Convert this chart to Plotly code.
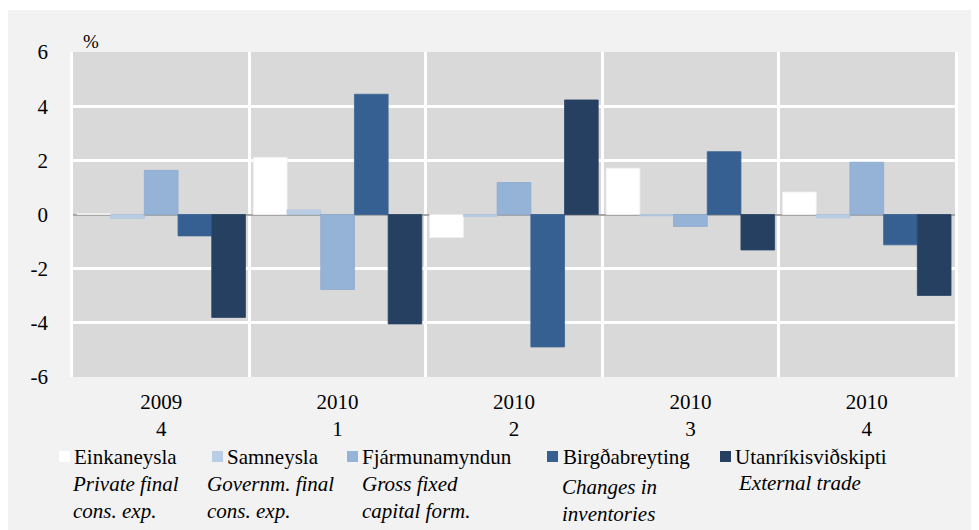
import plotly.graph_objects as go

categories = ["2009<br>4", "2010<br>1", "2010<br>2", "2010<br>3", "2010<br>4"]
series_names = ["Einkaneysla", "Samneysla", "Fjármunamyndun", "Birgðabreyting", "Utanríkisviðskipti"]
english_names = ["Private final<br>cons. exp.", "Governm. final<br>cons. exp.", "Gross fixed<br>capital form.",
                 "Changes in<br>inventories", "External trade"]
einkaneysla = [0.03, 2.11, -0.85, 1.71, 0.83]
samneysla = [-0.15, 0.17, -0.07, -0.05, -0.12]
fjarmunamyndun = [1.63, -2.77, 1.18, -0.44, 1.93]
birgdabreyting = [-0.79, 4.44, -4.89, 2.32, -1.12]
utanrikisvidskipti = [-3.80, -4.04, 4.23, -1.31, -2.99]
y_ticks = [-6, -4, -2, 0, 2, 4, 6]
y_tick_labels = ["-6", "-4", "-2", "0", "2", "4", "6"]

values = [einkaneysla, samneysla, fjarmunamyndun, birgdabreyting, utanrikisvidskipti]
colors = ["#ffffff", "#b9cde5", "#95b3d7", "#376092", "#254061"]
edge_colors = ["#f0f0f0", "#b0c6e0", "#8caad0", "#3a6496", "#2a4566"]

# page offset of the figure (body margin)
OX, OY = 8, 8
W, H = 979 - OX, 530 - OY
# plot area in screen pixels
SL, SR, ST, SB = 73, 955, 52, 377
FONT = "Liberation Serif"
FS = 21

def px(x):
    return (x - SL) / (SR - SL)

def py(y):
    return (SB - y) / (SB - ST)

fig = go.Figure()
for name, vals, c, ec in zip(series_names, values, colors, edge_colors):
    fig.add_trace(go.Bar(name=name, x=categories, y=vals, marker_color=c,
                         marker_line=dict(color=ec, width=0.8)))

shapes = []
annotations = []

# thin white strip at the top of the panel
shapes.append(dict(type="rect", xref="paper", yref="paper", layer="below",
                   x0=px(0), x1=px(979), y0=py(10), y1=py(0),
                   fillcolor="#ffffff", line=dict(width=0)))

# legend
sq_x = [59, 212, 347, 547, 720]
txt_x = [72, 225, 360, 561, 733]
eng_x = [70, 205, 360, 560, 736]
eng_y = [497, 497, 497, 500, 483]
for i in range(5):
    shapes.append(dict(type="rect", xref="paper", yref="paper",
                       x0=px(sq_x[i]), x1=px(sq_x[i] + 11), y0=py(462), y1=py(451),
                       fillcolor=colors[i], line=dict(width=0)))
    annotations.append(dict(xref="paper", yref="paper", x=px(txt_x[i]), y=py(457),
                            text=series_names[i], showarrow=False, xanchor="left", yanchor="middle",
                            font=dict(family=FONT, size=FS, color="#000000")))
    annotations.append(dict(xref="paper", yref="paper", x=px(eng_x[i]), y=py(eng_y[i]),
                            text="<i>" + english_names[i] + "</i>", showarrow=False,
                            xanchor="left", yanchor="middle", align="left",
                            font=dict(family=FONT, size=FS, color="#000000")))

annotations.append(dict(xref="paper", yref="paper", x=px(81), y=py(41), text="%",
                        showarrow=False, xanchor="left", yanchor="middle",
                        font=dict(family=FONT, size=19, color="#000000")))

fig.update_layout(
    width=W, height=H,
    margin=dict(l=SL - OX, r=(W + OX) - SR, t=ST - OY, b=(H + OY) - SB, pad=0),
    paper_bgcolor="#f2f2f2",
    plot_bgcolor="#d9d9d9",
    barmode="group", bargap=0.045, bargroupgap=0,
    showlegend=False,
    shapes=shapes, annotations=annotations,
    font=dict(family=FONT, size=FS, color="#000000"),
)
fig.update_xaxes(tickson="boundaries", showgrid=True, gridcolor="#ffffff", gridwidth=2.5,
                 ticks="", showline=False, zeroline=False, ticklabelstandoff=10,
                 tickfont=dict(family=FONT, size=FS))
fig.update_yaxes(range=[-6, 6], tickvals=y_ticks, ticktext=y_tick_labels,
                 showgrid=True, gridcolor="#ffffff", gridwidth=2.5,
                 zeroline=True, zerolinecolor="#a6a6a6", zerolinewidth=1.5,
                 showline=True, linecolor="#ffffff", linewidth=2.5, mirror=True,
                 ticks="", ticklabelstandoff=18,
                 tickfont=dict(family=FONT, size=FS))

fig.write_html("out.html")
